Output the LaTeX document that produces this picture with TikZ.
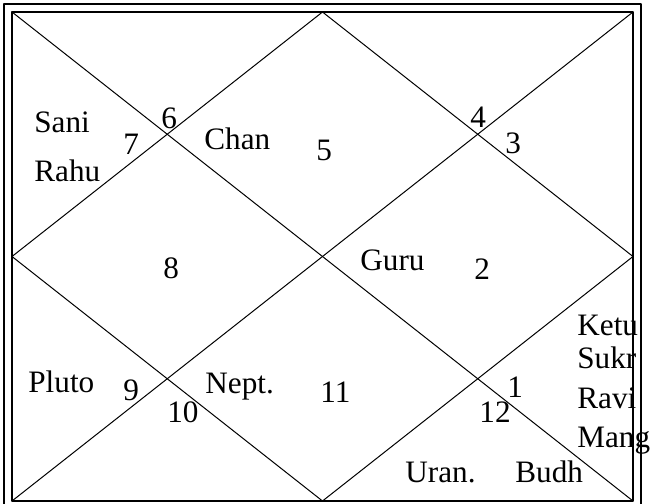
\documentclass[tikz,border=0pt]{standalone}
\usepackage{fontspec}
\setmainfont{Liberation Serif}
\tikzset{
  every picture/.style={line join=round, line cap=round},
  % one pixel of the chart is half a point
  chartlabel/.style={anchor=base west, inner sep=0pt, font=\fontsize{15.6}{18}\selectfont},
  housenum/.style={chartlabel},
  frameline/.style={line width=0.75pt},
  divline/.style={line width=0.5pt},
}

\begin{document}
\begin{tikzpicture}[x=0.5pt,y=-0.5pt]
\useasboundingbox (0,0) rectangle (650,504);
% corners and mid points of the inner square
\coordinate (tl) at (12,12);
\coordinate (tr) at (633,12);
\coordinate (br) at (633,501);
\coordinate (bl) at (12,501);
\coordinate (tm) at (322.5,12);
\coordinate (rm) at (633,256.5);
\coordinate (bm) at (322.5,501);
\coordinate (lm) at (12,256.5);
\draw[frameline] (4,4) rectangle (641,509);
\draw[frameline] (tl) rectangle (br);
\draw[divline] (tl) -- (br);
\draw[divline] (tr) -- (bl);
\draw[divline] (tm) -- (rm) -- (bm) -- (lm) -- cycle;
% title, cut off by the top edge
\node[chartlabel,anchor=base] (title) at (306,-0.5) {Rasi Chart};
% house numbers
\node[housenum] (h1) at (507,397) {1};
\node[housenum] (h2) at (474,279) {2};
\node[housenum] (h3) at (505,153) {3};
\node[housenum] (h4) at (470,127) {4};
\node[housenum] (h5) at (316,160) {5};
\node[housenum] (h6) at (161,128) {6};
\node[housenum] (h7) at (123,154) {7};
\node[housenum] (h8) at (163,278) {8};
\node[housenum] (h9) at (123,400) {9};
\node[housenum] (h10) at (167,422) {10};
\node[housenum] (h11) at (320,402) {11};
\node[housenum] (h12) at (479,422) {12};
% planets
\node[chartlabel] (sani) at (34,132) {Sani};
\node[chartlabel] (rahu) at (34,181) {Rahu};
\node[chartlabel] (chan) at (204,149) {Chan};
\node[chartlabel] (guru) at (360,270) {Guru};
\node[chartlabel] (pluto) at (28,392) {Pluto};
\node[chartlabel] (nept) at (205,393) {Nept.};
\node[chartlabel] (ketu) at (577,335) {Ketu};
\node[chartlabel] (sukr) at (577,368) {Sukr};
\node[chartlabel] (ravi) at (577,408) {Ravi};
\node[chartlabel] (mang) at (577,447) {Mang};
\node[chartlabel] (uran) at (405,482) {Uran.};
\node[chartlabel] (budh) at (515,482) {Budh};
\end{tikzpicture}
\end{document}
